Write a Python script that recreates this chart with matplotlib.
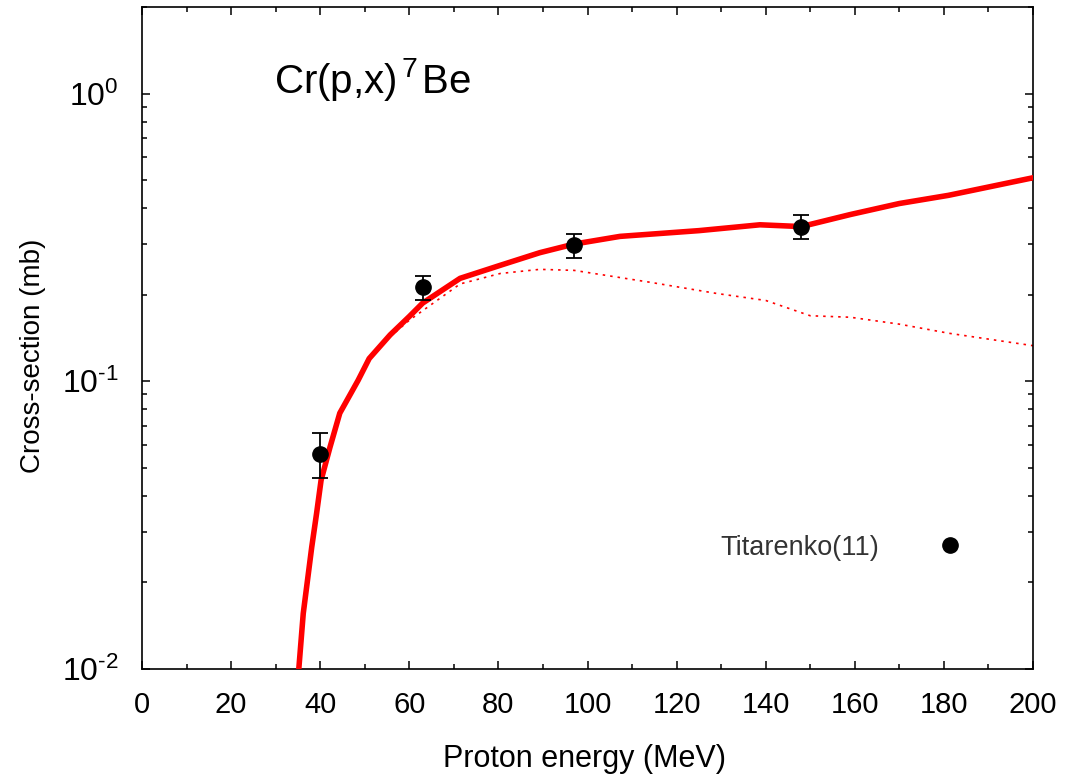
import matplotlib
matplotlib.use("Agg")
import matplotlib.pyplot as plt
from matplotlib.lines import Line2D
from matplotlib.ticker import LogLocator, NullFormatter, MultipleLocator, FixedLocator, FixedFormatter

plt.rcParams['font.family'] = ['Liberation Sans', 'DejaVu Sans']
plt.rcParams['mathtext.fontset'] = 'custom'
plt.rcParams['mathtext.rm'] = 'Liberation Sans'
plt.rcParams['mathtext.it'] = 'Liberation Sans'

# experimental data (Titarenko 11)
exp_e = [40, 63, 97, 148]
exp_xs = [0.056, 0.212, 0.297, 0.345]
exp_err = [0.010, 0.020, 0.028, 0.033]

# model calculation (solid)
model_e = [35.2, 36.2, 38.1, 39.2, 40.2, 42.2, 44.4, 48.5, 51, 55.7, 60, 63, 71.4, 80.4,
           89.3, 97, 107.3, 125, 138.7, 148, 159, 170, 181, 200]
model_xs = [0.010, 0.0156, 0.0265, 0.0348, 0.0453, 0.059, 0.0775, 0.1007, 0.12, 0.145,
            0.168, 0.187, 0.228, 0.253, 0.28, 0.30, 0.319, 0.334, 0.35, 0.345, 0.38,
            0.415, 0.443, 0.51]

# model calculation (dotted)
model2_e = [51, 55.7, 60, 71.4, 80.4, 89.3, 97, 114, 129, 140, 150, 159, 170, 181, 200]
model2_xs = [0.12, 0.143, 0.163, 0.218, 0.237, 0.245, 0.243, 0.221, 0.202, 0.191,
             0.169, 0.167, 0.158, 0.147, 0.133]

ytick_vals = [0.01, 0.1, 1]
ytick_text = ['10$^{\\text{-}2}$', '10$^{\\text{-}1}$', '10$^{0}$']

fig = plt.figure(figsize=(10.65, 7.8), dpi=100)
ax = fig.add_axes([0.1333, 0.1423, 0.8367, 0.8487])

ax.plot(model_e, model_xs, color='red', lw=4, zorder=3)
ax.plot(model2_e, model2_xs, color='red', lw=1.2, ls=(0, (1.5, 3)), zorder=2)
ax.errorbar(exp_e, exp_xs, yerr=exp_err, fmt='o', color='black', ms=11,
            elinewidth=1.3, capsize=6, capthick=1.3, zorder=4)

ax.set_yscale('log')
ax.set_xlim(0, 200)
ax.set_ylim(0.01, 2)
ax.xaxis.set_major_locator(MultipleLocator(20))
ax.xaxis.set_minor_locator(MultipleLocator(10))
ax.yaxis.set_major_locator(FixedLocator(ytick_vals))
ax.yaxis.set_major_formatter(FixedFormatter(ytick_text))
ax.yaxis.set_minor_locator(LogLocator(base=10, subs=range(2, 10)))
ax.yaxis.set_minor_formatter(NullFormatter())

ax.tick_params(which='both', direction='in', top=True, right=True, width=1.1)
ax.tick_params(which='major', length=6)
ax.tick_params(which='minor', length=3.5)
ax.tick_params(axis='x', which='major', labelsize=21, pad=16)
ax.tick_params(axis='y', which='major', labelsize=23, pad=17)
for s in ax.spines.values():
    s.set_linewidth(1.2)

ax.set_xlabel('Proton energy (MeV)', fontsize=22)
ax.set_ylabel('Cross-section (mb)', fontsize=20)
ax.xaxis.set_label_coords(0.497, -0.113)
ax.yaxis.set_label_coords(-0.108, 0.473)

ax.text(0.148, 0.89, 'Cr(p,x)$^{\\,7\\,}$Be', transform=ax.transAxes, fontsize=29,
        va='center', ha='left')

proxy = Line2D([], [], ls='none', marker='o', color='black', ms=11)
ax.legend([proxy], ['Titarenko(11)'], loc='center right', bbox_to_anchor=(0.934, 0.183),
          markerfirst=False, frameon=False, fontsize=19.5, handlelength=1.8,
          handletextpad=1.7, borderaxespad=0, borderpad=0, labelcolor='#333333')

fig.savefig('out.png', dpi=100)
